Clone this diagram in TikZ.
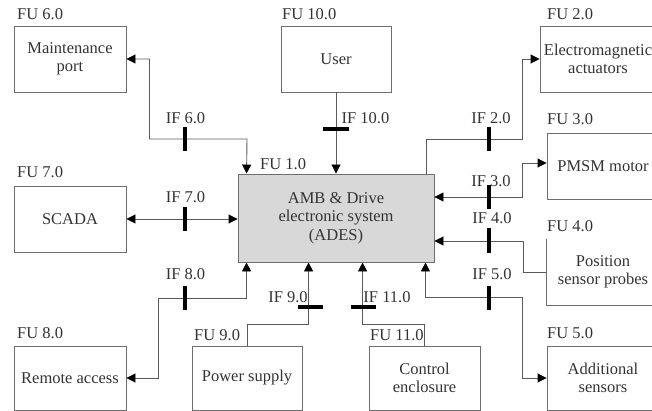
\documentclass[tikz,border=0pt]{standalone}
\usepackage{fontspec}
\setmainfont{Liberation Serif}
\usetikzlibrary{arrows.meta}
\definecolor{boxgray}{HTML}{6E6E6E}
\definecolor{linegray}{HTML}{5A5A5A}
\definecolor{textgray}{HTML}{333333}
\definecolor{adesfill}{HTML}{D8D8D8}
\begin{document}
\begin{tikzpicture}[x=1pt,y=-1pt,
  >={Triangle[length=9pt,width=9pt,color=black]},
  txt/.style={font=\fontsize{16.5}{18.5}\selectfont, text=textgray},
  fu/.style={txt, draw=boxgray, line width=0.9pt, minimum width=112pt, minimum height=66pt, inner sep=0pt, align=center},
  bfu/.style={fu, minimum height=64pt},
  link/.style={draw=linegray, line width=0.9pt},
  ifbar/.style={draw=black, line width=3.5pt},
  iflab/.style={txt, inner sep=0pt, anchor=center},
  fulab/.style={txt, inner sep=0pt, anchor=base west}]
\useasboundingbox (0,0) rectangle (652,411);
\clip (0,0) rectangle (652,411);
% boxes
\node[fu] (mp) at (70,59) {Maintenance\\port};
\node[fu, minimum width=110pt] (user) at (336,59) {User};
\node[fu, minimum width=116pt] (ema) at (598,59) {Electromagnetic\\actuators};
\node[fu] (pmsm) at (603,166) {PMSM motor};
\node[fu, draw=none] (pos) at (603,272) {Position\\sensor probes};
\draw[boxgray, line width=0.9pt] (pos.north west) -- (pos.south west) -- (pos.south east);
\node[bfu] (add) at (603,378) {Additional\\sensors};
\node[bfu, minimum width=111pt] (ctrl) at (424.5,378) {Control\\enclosure};
\node[bfu, minimum width=110pt] (pow) at (247,378) {Power supply};
\node[bfu] (rem) at (70,378) {Remote access};
\node[fu] (scada) at (70,219) {SCADA};
\node[fu, fill=adesfill, minimum width=196pt, minimum height=88pt] (ades) at (336,218) {AMB \& Drive\\electronic system\\(ADES)};
% FU labels
\node[fulab] (l6) at (17,20) {FU 6.0};
\node[fulab] (l10) at (282,20) {FU 10.0};
\node[fulab] (l2) at (547,20) {FU 2.0};
\node[fulab] (l3) at (547,125) {FU 3.0};
\node[fulab] (l4) at (547,232) {FU 4.0};
\node[fulab] (l5) at (547,338) {FU 5.0};
\node[fulab] (l11) at (370,340) {FU 11.0};
\node[fulab] (l9) at (194,340) {FU 9.0};
\node[fulab] (l8) at (17,338) {FU 8.0};
\node[fulab] (l7) at (17,178) {FU 7.0};
\node[fulab] (l1) at (260,170) {FU 1.0};
% connectors
\draw[link,<->] (mp.east) -- ++(23,0) |- (247,139) -- ([xshift=9pt]ades.north west);
\draw[link,->] (user.south) -- (user.south |- ades.north);
\draw[link,->] ([xshift=-8pt]ades.north east) |- (522,139) |- (ema.west);
\draw[link,<->] ([yshift=21pt]ades.east) -| (522,163) -- ([yshift=3pt]pmsm.west);
\draw[link,->] (pos.west) -- ++(-23,0) |- ([yshift=-23pt]ades.east);
\draw[link,<->] ([xshift=-9pt]ades.south east) |- (522,297) |- (add.west);
\draw[link,->] (ctrl.north) -- ++(0,-21) -| ([xshift=125pt]ades.south west);
\draw[link,->] (pow.north) -- ++(0,-21) -| ([xshift=71pt]ades.south west);
\draw[link,<->] ([xshift=9pt]ades.south west) |- (158,298) |- (rem.east);
\draw[link,<->] (scada.east) -- (scada.east -| ades.west);
% interface bars
\draw[ifbar] (185,127) -- (185,151);
\draw[ifbar] (185,207) -- (185,231);
\draw[ifbar] (185,286) -- (185,310);
\draw[ifbar] (298,307) -- (323,307);
\draw[ifbar] (351,307) -- (376,307);
\draw[ifbar] (323,129) -- (349,129);
\draw[ifbar] (489,127) -- (489,151);
\draw[ifbar] (489,185) -- (489,209);
\draw[ifbar] (489,228) -- (489,253);
\draw[ifbar] (489,286) -- (489,310);
% IF labels
\node[iflab] (i6) at (185.5,118) {IF 6.0};
\node[iflab] (i7) at (185.5,197) {IF 7.0};
\node[iflab] (i8) at (185.5,274) {IF 8.0};
\node[iflab] (i9) at (288,297) {IF 9.0};
\node[iflab] (i11) at (387,297) {IF 11.0};
\node[iflab] (i10) at (365.5,118) {IF 10.0};
\node[iflab] (i2) at (491,118) {IF 2.0};
\node[iflab] (i3) at (491,181) {IF 3.0};
\node[iflab] (i4) at (492,218) {IF 4.0};
\node[iflab] (i5) at (492,274) {IF 5.0};
\end{tikzpicture}
\end{document}
